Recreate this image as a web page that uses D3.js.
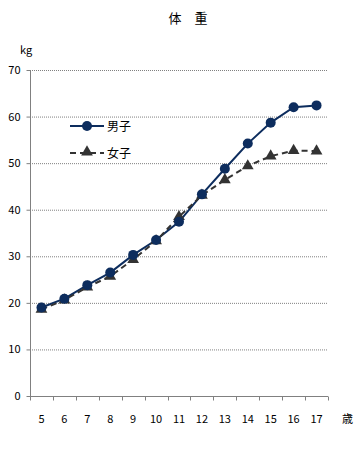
<!DOCTYPE html>
<html><head><meta charset="utf-8">
<script src="https://cdn.jsdelivr.net/npm/d3@7"></script>
<style>body{margin:0;background:#fff}svg{display:block}text{font-family:"Noto Sans CJK JP","Noto Sans",sans-serif}</style>
</head><body>
<script>
const ages = ["5","6","7","8","9","10","11","12","13","14","15","16","17"];
const boys = [19.0,20.9,23.8,26.5,30.3,33.5,37.4,43.3,48.8,54.2,58.7,62.0,62.4];
const girls = [18.6,20.6,23.4,25.7,29.3,33.3,38.5,43.1,46.4,49.4,51.5,52.7,52.6];
const yTicks = [0,10,20,30,40,50,60,70];
const seriesNames = ["男子","女子"];
const title = "体　重";

const W=355,H=450;
const svg=d3.select("body").append("svg").attr("width",W).attr("height",H);
const x=d3.scaleBand().domain(ages).range([30,328]);
const y=d3.scaleLinear().domain([0,70]).range([396,70]);

svg.append("text").attr("x",188).attr("y",23).attr("text-anchor","middle").attr("font-size",13).text(title);
svg.append("text").attr("x",20).attr("y",54).attr("font-size",11).text("kg");
svg.append("text").attr("x",342).attr("y",423).attr("font-size",11).text("歳");

// gridlines
svg.append("g").selectAll("line").data(yTicks.filter(d=>d>0)).join("line")
 .attr("x1",30).attr("x2",328).attr("y1",d=>y(d)+0.5).attr("y2",d=>y(d)+0.5)
 .attr("stroke","#808080").attr("stroke-dasharray","1,1");

const ya=svg.append("g").attr("transform","translate(30.5,0)")
 .call(d3.axisLeft(y).tickValues(yTicks).tickSize(4).tickPadding(6).tickFormat(d3.format("d")));
ya.selectAll("path,line").attr("stroke","#808080");
ya.selectAll("text").attr("font-size",11).attr("font-family","'Liberation Sans',sans-serif").attr("fill","#000");
ya.select(".domain").attr("d","M0,70V396");

const xa=svg.append("g").attr("transform","translate(0,396.5)");
xa.append("line").attr("x1",30).attr("x2",328).attr("stroke","#808080");
xa.selectAll("line.t").data(ages.concat(["end"])).join("line").attr("class","t")
 .attr("x1",(d,i)=>Math.round(30+i*x.step())+0.5).attr("x2",(d,i)=>Math.round(30+i*x.step())+0.5)
 .attr("y1",0).attr("y2",4).attr("stroke","#808080");
xa.selectAll("text").data(ages).join("text")
 .attr("x",d=>x(d)+x.bandwidth()/2).attr("y",26).attr("text-anchor","middle")
 .attr("font-size",11).attr("font-family","'Liberation Sans',sans-serif").text(d=>d);

const cx=d=>x(d)+x.bandwidth()/2;
const line=d3.line().x((d,i)=>cx(ages[i])).y(d=>y(d));
const boyC="#0d2d5e", girlC="#333333";
svg.append("path").datum(boys).attr("d",line).attr("fill","none").attr("stroke",boyC).attr("stroke-width",2);
svg.append("path").datum(girls).attr("d",line).attr("fill","none").attr("stroke",girlC).attr("stroke-width",2).attr("stroke-dasharray","6,4");
const tri=d3.symbol().type(d3.symbolTriangle).size(60);
svg.append("g").selectAll("path").data(girls).join("path")
 .attr("transform",(d,i)=>`translate(${cx(ages[i])},${y(d)})`).attr("d",tri).attr("fill",girlC);
svg.append("g").selectAll("circle").data(boys).join("circle")
 .attr("cx",(d,i)=>cx(ages[i])).attr("cy",d=>y(d)).attr("r",5).attr("fill",boyC);

// legend
const lg=svg.append("g");
lg.append("line").attr("x1",70).attr("x2",104).attr("y1",126).attr("y2",126).attr("stroke",boyC).attr("stroke-width",2);
lg.append("circle").attr("cx",87).attr("cy",126).attr("r",5).attr("fill",boyC);
lg.append("text").attr("x",107).attr("y",131).attr("font-size",12).text(seriesNames[0]);
lg.append("line").attr("x1",70).attr("x2",104).attr("y1",153).attr("y2",153).attr("stroke",girlC).attr("stroke-width",2).attr("stroke-dasharray","6,4");
lg.append("path").attr("transform","translate(87,152)").attr("d",tri).attr("fill",girlC);
lg.append("text").attr("x",107).attr("y",158).attr("font-size",12).text(seriesNames[1]);
</script>
</body></html>
